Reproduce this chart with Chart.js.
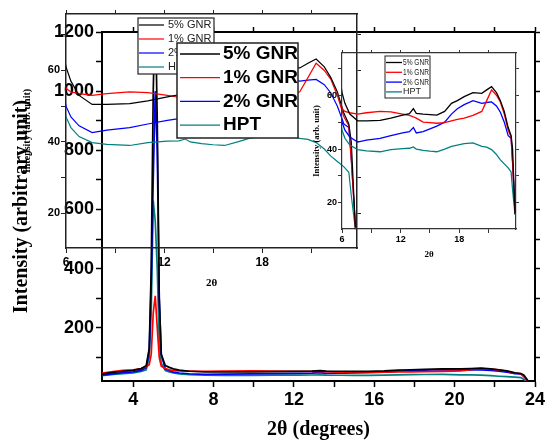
<!DOCTYPE html>
<html>
<head>
<meta charset="utf-8">
<script src="https://cdn.jsdelivr.net/npm/chart.js@4.4.1/dist/chart.umd.min.js"></script>
<style>
  html, body { margin: 0; padding: 0; background: #fff; }
  #wrap { position: relative; width: 549px; height: 443px; }
  #wrap canvas { position: absolute; left: 0; top: 0; }
</style>
</head>
<body>
<div id="wrap">
  <canvas id="mainChart" width="549" height="443"></canvas>
  <canvas id="bigInset" width="549" height="443"></canvas>
  <canvas id="smallInset" width="549" height="443"></canvas>
</div>
<script>
// ===== datos (2θ en grados, intensidad en unidades arbitrarias) =====
const angles = [2.45, 3.0, 3.5, 4.0, 4.4, 4.65, 4.8, 4.9, 5.0, 5.1, 5.2, 5.3, 5.4, 5.6, 5.8,
    6.0, 6.3, 6.8, 7.6, 8.5, 9.9, 11.0, 12.2, 12.9, 13.3, 13.6, 14.3, 15.0, 15.7, 16.5,
    17.2, 17.8, 18.5, 19.4, 20.3, 20.8, 21.3, 21.8, 22.2, 22.6, 23.0, 23.3, 23.45, 23.7];
const gnr5 = [43, 49, 53, 56, 62, 72, 130, 400, 1000, 1300, 900, 300, 110, 72, 66,
    61, 57, 53, 50.5, 50.5, 50.7, 51.5, 52.6, 53.2, 55, 53.3, 53, 52.8, 52.6, 54,
    57, 58, 59.5, 61, 60.7, 62, 63.2, 61, 58, 54, 48, 45, 40, 16];
const gnr1 = [47, 52, 56, 58, 62, 68, 75, 110, 250, 308, 200, 100, 70, 62, 58,
    55, 54, 53.5, 53, 53.5, 54, 53.8, 53, 52.5, 52, 51.5, 50, 49.8, 49.6, 49.8,
    50.5, 51, 51.5, 52.5, 54, 58, 62, 60, 57.5, 53, 47, 44.5, 35, 16];
const gnr2 = [40, 44, 48, 51, 56, 65, 120, 350, 700, 1000, 800, 300, 110, 60, 55,
    50, 47, 44.5, 42.6, 43.3, 44, 45, 46, 46.5, 48, 46, 46.5, 47.5, 48.5, 50,
    53, 55, 56.5, 58, 57, 57.3, 57.5, 56, 53.7, 50, 45, 44, 35, 17];
const hpt = [38, 42, 45, 47, 52, 58, 100, 250, 630, 560, 400, 150, 80, 55, 51,
    47, 44, 41.5, 39.8, 39.3, 39, 39.8, 40.2, 40.3, 40.8, 40, 39.5, 39.2, 39, 40,
    41, 41.5, 42, 42.3, 41, 40.7, 39.8, 38, 36, 34.5, 33, 31.5, 25, 15.5];

const seriesNames = ["5% GNR", "1% GNR", "2% GNR", "HPT"];
const seriesColors = ["#000000", "#ff0000", "#0000ff", "#008080"];

const mainXTicks = [4, 6, 8, 10, 12, 14, 16, 18, 20, 22, 24];
const mainXLabels = [4, 8, 12, 16, 20, 24];
const mainYTicks = [100, 200, 300, 400, 500, 600, 700, 800, 900, 1000, 1100, 1200];
const mainYLabels = [200, 400, 600, 800, 1000, 1200];
const insetXTicks = [6, 9, 12, 15, 18, 21];
const insetXLabels = [6, 12, 18];
const insetYTicks = [20, 30, 40, 50, 60, 70];
const insetYLabels = [20, 40, 60];

// ===== helpers =====
function datasets(width) {
    return [gnr5, gnr1, gnr2, hpt].map((vals, i) => ({
        label: seriesNames[i],
        data: angles.map((a, j) => ({ x: a, y: vals[j] })),
        borderColor: seriesColors[i],
        borderWidth: width,
        pointRadius: 0,
        tension: 0,
        fill: false,
    }));
}

function axis(o) {
    return {
        type: "linear",
        position: o.position,
        min: o.min,
        max: o.max,
        afterBuildTicks: (s) => { s.ticks = o.ticks.map((v) => ({ value: v })); },
        afterFit: (s) => {
            if (o.position === "left" || o.position === "right") s.width = o.size;
            else s.height = o.size;
        },
        ticks: {
            display: !!o.labels,
            autoSkip: false,
            maxRotation: 0,
            padding: o.pad || 3,
            color: "#000",
            font: { family: "Liberation Sans", weight: "bold", size: o.fontSize || 12 },
            callback: (v) => (o.labels && o.labels.includes(v) ? v : ""),
        },
        grid: {
            drawOnChartArea: false,
            tickLength: o.tick,
            tickColor: o.color,
            tickWidth: o.tickWidth || 1,
        },
        border: { color: o.color, width: o.frame },
        title: o.title || { display: false },
    };
}

function boxLegend(id, b) {
    return {
        id,
        afterDraw(chart) {
            const ctx = chart.ctx;
            ctx.save();
            ctx.fillStyle = "#fff";
            ctx.fillRect(b.x, b.y, b.w, b.h);
            ctx.strokeStyle = b.border;
            ctx.lineWidth = b.borderWidth;
            ctx.strokeRect(b.x, b.y, b.w, b.h);
            chart.data.datasets.forEach((ds, i) => {
                const y = b.y + b.rowTop + i * b.rowGap;
                ctx.strokeStyle = ds.borderColor;
                ctx.lineWidth = b.lineWidth;
                ctx.beginPath();
                ctx.moveTo(b.x + b.lineStart, y);
                ctx.lineTo(b.x + b.lineEnd, y);
                ctx.stroke();
                ctx.fillStyle = b.textColor;
                ctx.font = b.font;
                ctx.textBaseline = "middle";
                ctx.fillText(ds.label, b.x + b.textX, y, b.maxText);
            });
            ctx.restore();
        },
    };
}

const base = {
    responsive: false,
    animation: false,
    devicePixelRatio: 1,
    layout: { padding: 0 },
    plugins: { legend: { display: false }, tooltip: { enabled: false } },
};

// ===== gráfico principal =====
new Chart(document.getElementById("mainChart"), {
    type: "line",
    data: { datasets: datasets(1.7) },
    options: {
        ...base,
        scales: {
            x: axis({
                position: "bottom", min: 2.45, max: 24, ticks: mainXTicks, labels: mainXLabels,
                size: 62, tick: 6, color: "#000", frame: 2, fontSize: 18, pad: 2, tickWidth: 1.5,
                title: {
                    display: true, text: "2θ (degrees)", color: "#000",
                    font: { family: "Liberation Serif", weight: "bold", size: 20 },
                    padding: { top: 0, bottom: 1 },
                },
            }),
            x2: axis({ position: "top", min: 2.45, max: 24, ticks: mainXTicks, size: 32, tick: 5, color: "#000", frame: 2, tickWidth: 1.5 }),
            y: axis({
                position: "left", min: 20, max: 1200, ticks: mainYTicks, labels: mainYLabels,
                size: 102, tick: 6, color: "#000", frame: 2, fontSize: 18, pad: 2, tickWidth: 1.5,
                title: {
                    display: true, text: "Intensity (arbitrary unit)", color: "#000",
                    font: { family: "Liberation Serif", weight: "bold", size: 20 },
                    padding: { top: 10, bottom: 0 },
                },
            }),
            y2: axis({ position: "right", min: 20, max: 1200, ticks: mainYTicks, size: 14, tick: 5, color: "#000", frame: 2, tickWidth: 1.5 }),
        },
    },
});

// ===== recuadro grande =====
new Chart(document.getElementById("bigInset"), {
    type: "line",
    data: { datasets: datasets(1.2) },
    options: {
        ...base,
        scales: {
            x: axis({
                position: "bottom", min: 6, max: 23.8, ticks: insetXTicks, labels: insetXLabels,
                size: 195, tick: 5, color: "#222", frame: 1.5, fontSize: 12, pad: 2,
                title: {
                    display: true, text: "2θ", color: "#000",
                    font: { family: "Liberation Serif", weight: "bold", size: 11 },
                    padding: { top: 0, bottom: 153 },
                },
            }),
            x2: axis({ position: "top", min: 6, max: 23.8, ticks: insetXTicks, size: 14, tick: 4, color: "#222", frame: 1.5 }),
            y: axis({
                position: "left", min: 10.3, max: 75.8, ticks: insetYTicks, labels: insetYLabels,
                size: 66, tick: 5, color: "#222", frame: 1.5, fontSize: 11, pad: 1,
                title: {
                    display: true, text: "Intensity (arb. unit)", color: "#000",
                    font: { family: "Liberation Serif", weight: "bold", size: 10 },
                    padding: { top: 21, bottom: 0 },
                },
            }),
            y2: axis({ position: "right", min: 10.3, max: 75.8, ticks: insetYTicks, size: 192, tick: 4, color: "#222", frame: 1.5 }),
        },
    },
    plugins: [
        boxLegend("legendSmall", {
            x: 138, y: 18, w: 76, h: 56, rowTop: 7, rowGap: 14,
            lineStart: 1, lineEnd: 26, textX: 30, lineWidth: 1.2,
            font: "11px 'Liberation Sans'", textColor: "#222", border: "#222", borderWidth: 1.2,
        }),
        boxLegend("legendBig", {
            x: 177, y: 43, w: 121, h: 95, rowTop: 11, rowGap: 23.7,
            lineStart: 3, lineEnd: 43, textX: 46, lineWidth: 1.3,
            font: "bold 19px 'Liberation Sans'", textColor: "#000", border: "#222", borderWidth: 1.5,
        }),
    ],
});

// ===== recuadro pequeño =====
new Chart(document.getElementById("smallInset"), {
    type: "line",
    data: { datasets: datasets(1.3) },
    options: {
        ...base,
        scales: {
            x: axis({
                position: "bottom", min: 6, max: 23.8, ticks: insetXTicks, labels: insetXLabels,
                size: 214, tick: 4, color: "#333", frame: 1.2, fontSize: 9, pad: 1,
                title: {
                    display: true, text: "2θ", color: "#000",
                    font: { family: "Liberation Serif", weight: "bold", size: 9 },
                    padding: { top: 0, bottom: 183 },
                },
            }),
            x2: axis({ position: "top", min: 6, max: 23.8, ticks: insetXTicks, size: 53, tick: 3, color: "#333", frame: 1.2 }),
            y: axis({
                position: "left", min: 10.3, max: 75.7, ticks: insetYTicks, labels: insetYLabels,
                size: 342, tick: 4, color: "#333", frame: 1.2, fontSize: 9, pad: 1,
                title: {
                    display: true, text: "Intensity (arb. unit)", color: "#000",
                    font: { family: "Liberation Serif", weight: "bold", size: 8.5 },
                    padding: { top: 312, bottom: 0 },
                },
            }),
            y2: axis({ position: "right", min: 10.3, max: 75.7, ticks: insetYTicks, size: 33, tick: 3, color: "#333", frame: 1.2 }),
        },
    },
    plugins: [
        boxLegend("legendInset", {
            x: 385, y: 56, w: 45, h: 42, rowTop: 6.5, rowGap: 9.8,
            lineStart: 1, lineEnd: 17, textX: 18, lineWidth: 1.3, maxText: 26,
            font: "9px 'Liberation Sans'", textColor: "#222", border: "#222", borderWidth: 1,
        }),
    ],
});
</script>
</body>
</html>
